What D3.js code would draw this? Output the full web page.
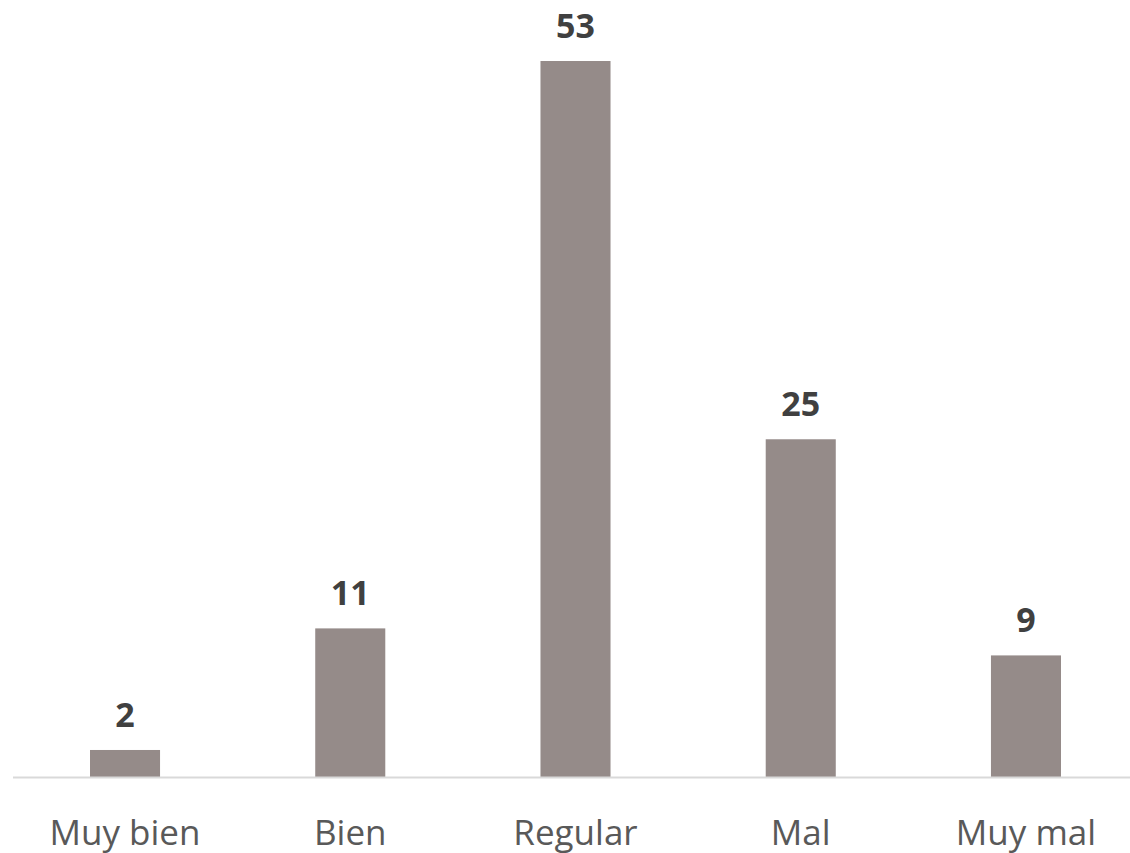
<!DOCTYPE html>
<html>
<head>
<meta charset="utf-8">
<script src="https://cdn.jsdelivr.net/npm/d3@7"></script>
<style>
  body { margin: 0; background: #fff; }
  svg { display: block; }
</style>
</head>
<body>
<div id="chart"></div>
<script>
const categories = ['Muy bien', 'Bien', 'Regular', 'Mal', 'Muy mal'];
const values = [2, 11, 53, 25, 9];

const width = 1130, height = 853;
const margin = { top: 61, left: 13 };
const baseY = 777;

const svg = d3.select('#chart').append('svg')
    .attr('width', width)
    .attr('height', height);

// step ~225px, bars ~70px wide
const x = d3.scaleBand()
    .domain(categories)
    .range([12.4, 1138.6])
    .paddingInner(0.689)
    .paddingOuter(0.3445);

const y = d3.scaleLinear()
    .domain([0, d3.max(values)])
    .range([baseY, margin.top]);

const data = categories.map((c, i) => ({ cat: c, val: values[i] }));

// bars
svg.selectAll('rect.bar')
    .data(data)
    .enter()
    .append('rect')
    .attr('class', 'bar')
    .attr('x', d => x(d.cat))
    .attr('y', d => y(d.val))
    .attr('width', x.bandwidth())
    .attr('height', d => baseY - y(d.val))
    .attr('fill', '#958b89');

// baseline
svg.append('line')
    .attr('x1', margin.left)
    .attr('x2', width)
    .attr('y1', baseY + 0.5)
    .attr('y2', baseY + 0.5)
    .attr('stroke', '#d9d9d9')
    .attr('stroke-width', 2);

// value labels
svg.selectAll('text.value')
    .data(data)
    .enter()
    .append('text')
    .attr('class', 'value')
    .attr('x', d => x(d.cat) + x.bandwidth() / 2)
    .attr('y', d => y(d.val) - 23)
    .attr('text-anchor', 'middle')
    .style('font-family', '"Open Sans", sans-serif')
    .style('font-weight', 'bold')
    .style('font-size', '34px')
    .attr('fill', '#404040')
    .text(d => d.val);

// category axis labels
const xAxis = d3.axisBottom(x).tickSize(0).tickPadding(0);
const gx = svg.append('g')
    .attr('transform', `translate(0,${baseY})`)
    .call(xAxis);
gx.select('.domain').remove();
gx.selectAll('text')
    .attr('y', 68)
    .attr('dy', 0)
    .style('font-family', '"Open Sans", sans-serif')
    .style('font-size', '35px')
    .attr('fill', '#595959');
</script>
</body>
</html>
